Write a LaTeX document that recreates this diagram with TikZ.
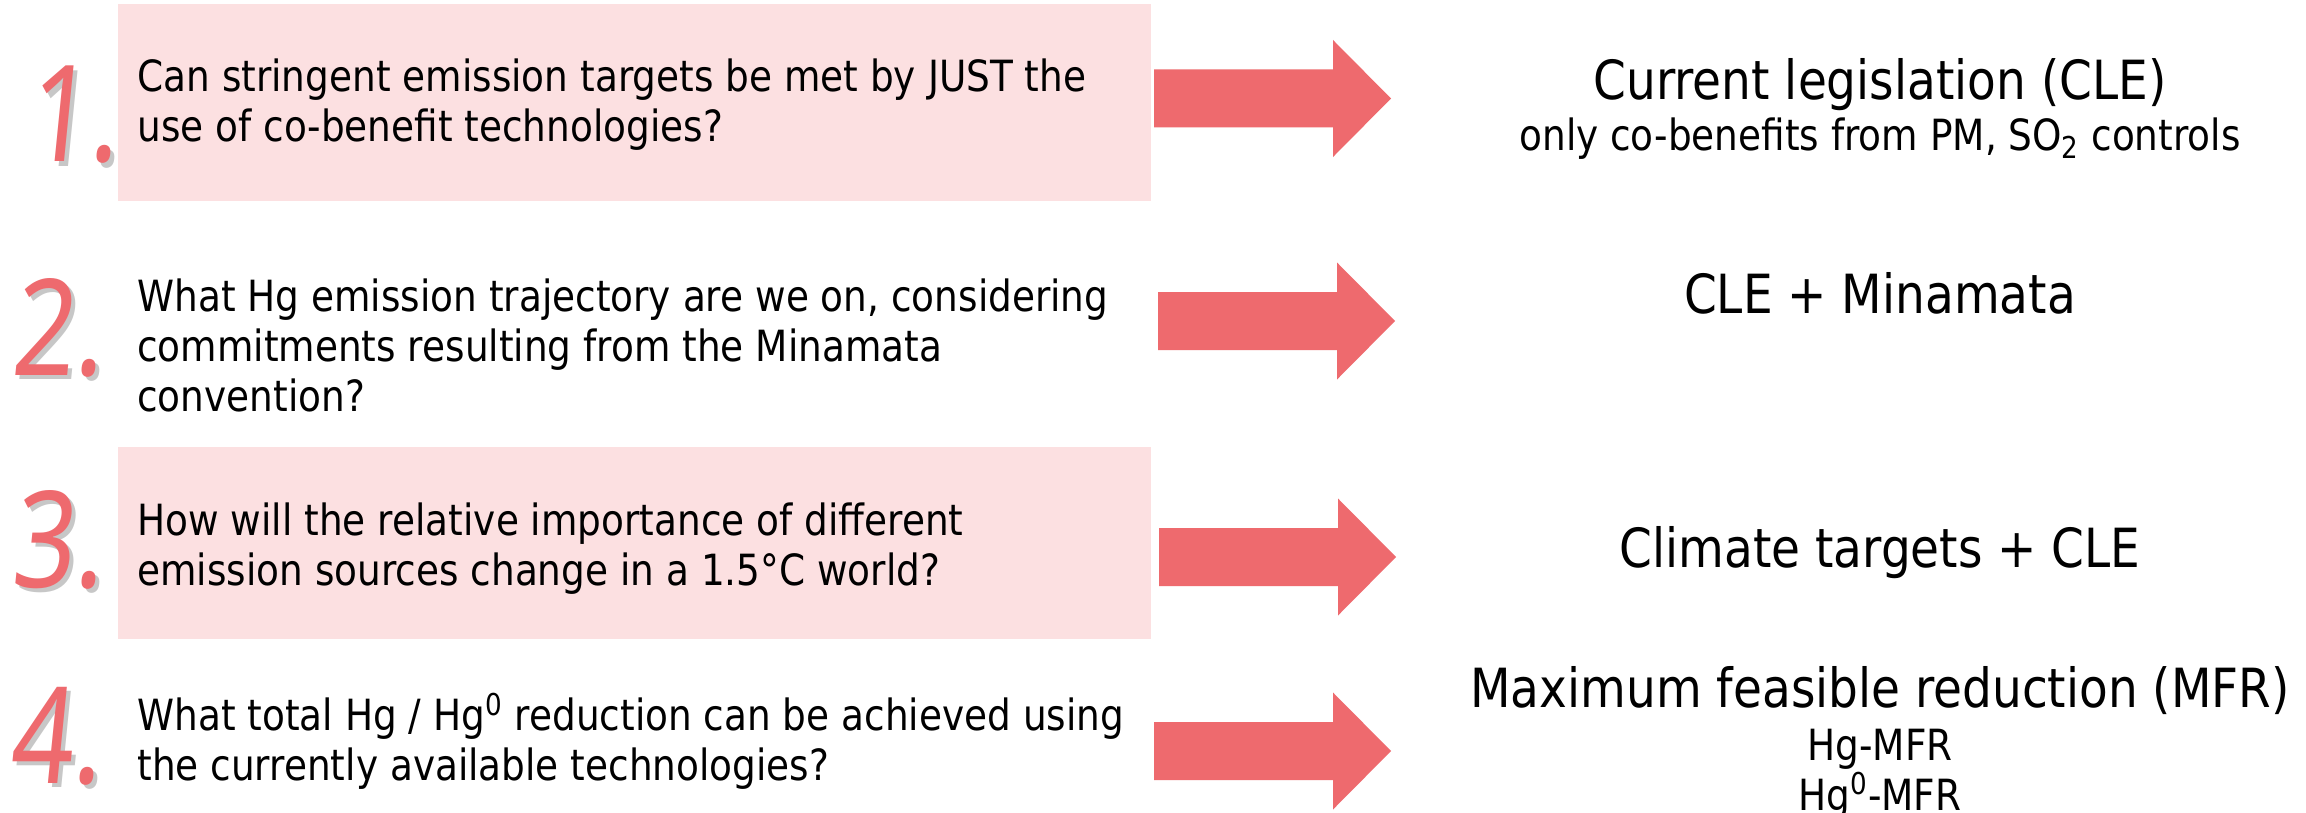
\documentclass[tikz,border=0pt]{standalone}
\usepackage{fontspec}
\setmainfont[FakeStretch=0.87]{DejaVu Sans}
\newfontfamily\numfont[FakeStretch=0.82,FakeSlant=0.1]{Noto Sans}
\definecolor{boxpink}{HTML}{FCE0E1}
\definecolor{arrowred}{HTML}{EE6A6E}
\tikzset{
  qbox/.style={fill=boxpink, draw=none},
  qtext/.style={anchor=west, align=left, inner sep=0pt, font=\fontsize{21.5}{25}\selectfont},
  ttext/.style={anchor=base, inner sep=0pt, font=\fontsize{27}{30}\selectfont},
  stext/.style={anchor=base, inner sep=0pt, font=\fontsize{21.5}{25}\selectfont},
  num/.style={anchor=base west, inner sep=0pt, text=arrowred, font=\numfont\fontsize{67}{70}\selectfont},
  numshadow/.style={num, text=black, opacity=0.22},
  blockarrow/.pic={\fill[arrowred] (0,-29) -- (179,-29) -- (179,-58.5) -- (237,0) -- (179,58.5) -- (179,29) -- (0,29) -- cycle;}
}
\begin{document}
\begin{tikzpicture}[x=0.5pt,y=-0.5pt]
\useasboundingbox[fill=white] (0,0) rectangle (2306,813);
% shaded boxes
\fill[qbox] (118,4) rectangle (1151,201);
\fill[qbox] (118,447) rectangle (1151,639);
% numbers with shadows
\node[numshadow] at (29,166) {1.};
\node[num] (n1) at (25,162) {1.};
\node[numshadow] at (14,379) {2.};
\node[num] (n2) at (10,375) {2.};
\node[numshadow] at (14,591) {3.};
\node[num] (n3) at (10,587) {3.};
\node[numshadow] at (12,787) {4.};
\node[num] (n4) at (8,783) {4.};
% questions
\node[qtext] (q1) at (137,105) {Can stringent emission targets be met by JUST the\\use of co-benefit technologies?};
\node[qtext] (q2) at (137,345) {What Hg emission trajectory are we on, considering\\commitments resulting from the Minamata\\convention?};
\node[qtext] (q3) at (137,549) {How will the relative importance of different\\emission sources change in a 1.5°C world?};
\node[qtext] (q4) at (137,741.5) {What total Hg / Hg\textsuperscript{0} reduction can be achieved using\\the currently available technologies?};
% arrows
\pic (a1) at (1154,98.5) {blockarrow};
\pic (a2) at (1158,321) {blockarrow};
\pic (a3) at (1159,557) {blockarrow};
\pic (a4) at (1154,751) {blockarrow};
% answers
\node[ttext] (t1) at (1880,99) {Current legislation (CLE)};
\node[stext] (s1) at (1880,150) {only co-benefits from PM, SO\textsubscript{2} controls};
\node[ttext] (t2) at (1880,313) {CLE + Minamata};
\node[ttext] (t3) at (1880,567) {Climate targets + CLE};
\node[ttext] (t4) at (1880,707) {Maximum feasible reduction (MFR)};
\node[stext] (s4a) at (1880,760) {Hg-MFR};
\node[stext] (s4b) at (1880,810) {Hg\textsuperscript{0}-MFR};
\end{tikzpicture}
\end{document}
